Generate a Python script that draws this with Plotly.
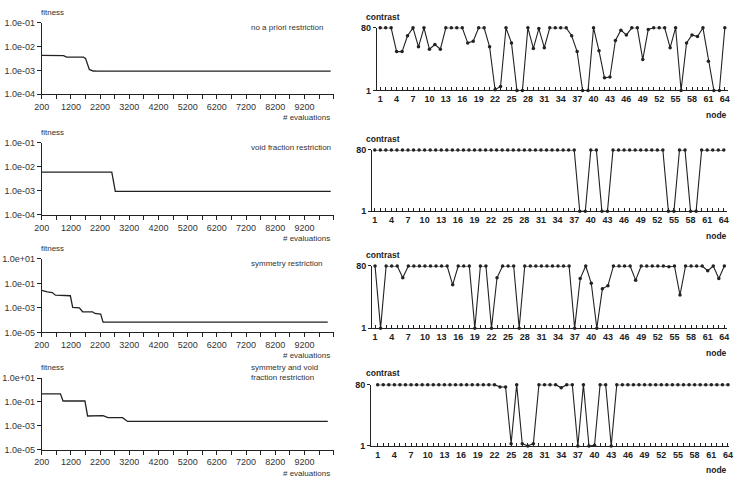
import plotly.graph_objects as go

W, H = 739, 482

# ---------------- data ----------------
evals_1 = [200, 950, 1050, 1630, 1700, 1760, 1830, 1960, 2100, 10100]
fitness_1 = [4.3e-3, 4.2e-3, 3.6e-3, 3.6e-3, 3.2e-3, 1.8e-3, 1.1e-3, 9.4e-4, 9.3e-4, 9.3e-4]

evals_2 = [200, 2600, 2720, 10100]
fitness_2 = [6.0e-3, 6.0e-3, 9.5e-4, 9.5e-4]

evals_3 = [200, 390, 560, 670, 1180, 1260, 1490, 1600, 1940, 2020, 2220, 2300, 10000]
fitness_3 = [0.0275, 0.020, 0.018, 0.011, 0.0098, 1.1e-3, 1.0e-3, 4.8e-4, 4.8e-4, 3.5e-4, 3.1e-4, 6.9e-5, 6.9e-5]

evals_4 = [200, 840, 930, 1680, 1770, 2300, 2470, 2970, 3140, 10000]
fitness_4 = [0.48, 0.48, 0.12, 0.12, 6.6e-3, 7.0e-3, 4.8e-3, 4.8e-3, 2.3e-3, 2.3e-3]

nodes = list(range(1, 65))
contrast_1 = [80, 80, 80, 50, 50, 70, 80, 56, 80, 53,
              59, 53, 80, 80, 80, 80, 61, 63, 80, 80,
              56, 2, 6, 80, 61, 1, 1, 80, 54, 79,
              55, 80, 80, 80, 80, 70, 50, 1, 1, 80,
              51, 17, 18, 64, 77, 71, 80, 80, 40, 78,
              80, 80, 80, 55, 80, 1, 61, 71, 69, 80,
              38, 1, 1, 80]
contrast_2 = [80] * 37 + [1, 1, 80, 80, 1, 1] + [80] * 10 + [1, 1, 80, 80, 1, 1] + [80] * 5
contrast_3 = [80, 1, 80, 80, 80, 65, 80, 80, 80, 80,
              80, 80, 80, 80, 56, 80, 80, 80, 1, 80,
              80, 1, 65, 80, 80, 80, 1, 80, 80, 80,
              80, 80, 80, 80, 80, 80, 1, 64, 80, 58,
              1, 51, 55, 80, 80, 80, 80, 62, 80, 80,
              80, 80, 80, 79, 80, 43, 80, 80, 80, 80,
              74, 80, 64, 80]
contrast_4 = [80] * 22 + [77, 77, 4, 80, 4, 1, 4, 80, 80, 80, 80, 76, 80, 80,
                          1, 80, 1, 2, 80, 80, 1] + [80] * 21

titles = ["no a priori restriction", "void fraction restriction",
          "symmetry restriction", "symmetry and void<br>fraction restriction"]

x_ticks_left = list(range(200, 10201, 500))
x_ticklabels_left = [str(v) if (v - 200) % 1000 == 0 and v <= 9200 else "" for v in x_ticks_left]
node_ticklabels = [str(n) if (n - 1) % 3 == 0 else "" for n in nodes]

left_series = [(evals_1, fitness_1), (evals_2, fitness_2), (evals_3, fitness_3), (evals_4, fitness_4)]
right_series = [contrast_1, contrast_2, contrast_3, contrast_4]

# ---------------- layout geometry (pixels) ----------------
left_y_px = [(18.3, 91), (140.7, 214.3), (259.3, 334.3), (381, 454)]
left_x_px = (34.3, 331)
right_y_px = [(23.3, 87.3), (148, 210.7), (266.5, 330), (387.7, 450.3)]
right_x_px = [(375, 732), (370, 731), (370, 731), (369, 733)]
right_x_rng = [(0.4, 64.6), (0.5, 64.6), (0.45, 64.5), (-0.2, 64.2)]

left_yticks = [
    ([1e-4, 1e-3, 1e-2, 1e-1], ["1.0e-04", "1.0e-03", "1.0e-02", "1.0e-01"], [-4, -1]),
    ([1e-4, 1e-3, 1e-2, 1e-1], ["1.0e-04", "1.0e-03", "1.0e-02", "1.0e-01"], [-4, -1]),
    ([1e-5, 1e-3, 1e-1, 1e1], ["1.0e-05", "1.0e-03", "1.0e-01", "1.0e+01"], [-5, 1]),
    ([1e-5, 1e-3, 1e-1, 1e1], ["1.0e-05", "1.0e-03", "1.0e-01", "1.0e+01"], [-5, 1]),
]

def fx(px):
    return px / W

def fy(px):
    return 1 - px / H

fig = go.Figure()
layout = dict(width=W, height=H, margin=dict(l=0, r=0, t=0, b=0),
              paper_bgcolor="white", plot_bgcolor="white", showlegend=False)
annotations = []
FONT = "Liberation Sans, Arial, sans-serif"
LC = "#222222"

for i in range(4):
    # left panel
    ax = 2 * i + 1
    xa = "x" if ax == 1 else f"x{ax}"
    ya = "y" if ax == 1 else f"y{ax}"
    ex, fv = left_series[i]
    fig.add_trace(go.Scatter(x=ex, y=fv, mode="lines", xaxis=xa, yaxis=ya,
                             line=dict(color=LC, width=1.3)))
    top, bot = left_y_px[i]
    layout["xaxis" if ax == 1 else f"xaxis{ax}"] = dict(
        domain=[fx(left_x_px[0]), fx(left_x_px[1])], range=[200, 10200],
        anchor=ya, showline=True, linecolor=LC, linewidth=1, showgrid=False, zeroline=False,
        tickmode="array", tickvals=x_ticks_left, ticktext=x_ticklabels_left,
        ticks="outside", ticklen=4, tickcolor=LC,
        tickfont=dict(family=FONT, size=9, color="#333"))
    tv, tt, rng = left_yticks[i]
    layout["yaxis" if ax == 1 else f"yaxis{ax}"] = dict(
        domain=[fy(bot), fy(top)], type="log", range=rng, anchor=xa,
        showline=True, linecolor=LC, linewidth=1, showgrid=False, zeroline=False,
        tickmode="array", tickvals=tv, ticktext=tt, ticks="outside", ticklen=4, tickcolor=LC,
        tickfont=dict(family=FONT, size=9, color="#333"))
    annotations.append(dict(text="fitness", x=fx(32), y=fy(top - 11), xref="paper", yref="paper",
                            xanchor="left", yanchor="middle", showarrow=False,
                            font=dict(family=FONT, size=8, color="#333")))
    annotations.append(dict(text="# evaluations", x=fx(329), y=fy(bot + 24), xref="paper", yref="paper",
                            xanchor="right", yanchor="middle", showarrow=False,
                            font=dict(family=FONT, size=8, color="#333")))
    annotations.append(dict(text=titles[i], x=fx(245), y=fy(top + 5 if i != 3 else top - 5.7),
                            xref="paper", yref="paper", xanchor="left", yanchor="middle",
                            align="left", showarrow=False,
                            font=dict(family=FONT, size=8, color="#333")))

    # right panel
    ax = 2 * i + 2
    xa = f"x{ax}"
    ya = f"y{ax}"
    fig.add_trace(go.Scatter(x=nodes, y=right_series[i], mode="lines+markers", xaxis=xa, yaxis=ya,
                             line=dict(color=LC, width=1.1), cliponaxis=False,
                             marker=dict(color=LC, size=3.5)))
    top, bot = right_y_px[i]
    layout[f"xaxis{ax}"] = dict(
        domain=[fx(right_x_px[i][0]), fx(right_x_px[i][1])], range=list(right_x_rng[i]),
        anchor=ya, showline=True, linecolor=LC, linewidth=1, showgrid=False, zeroline=False,
        tickmode="array", tickvals=nodes, ticktext=node_ticklabels,
        ticks="inside", ticklen=3, tickcolor=LC,
        tickfont=dict(family=FONT, size=9, color="#222", weight="bold"))
    layout[f"yaxis{ax}"] = dict(
        domain=[fy(bot), fy(top)], range=[1, 80], anchor=xa,
        showline=True, linecolor=LC, linewidth=1, showgrid=False, zeroline=False,
        tickmode="array", tickvals=[1, 80], ticktext=["1", "80"], ticks="outside", ticklen=3,
        tickcolor=LC, tickfont=dict(family=FONT, size=9, color="#222", weight="bold"))
    annotations.append(dict(text="<b>contrast</b>", x=fx(361.5), y=fy(top - 11.5), xref="paper", yref="paper",
                            xanchor="left", yanchor="middle", showarrow=False,
                            font=dict(family=FONT, size=8.5, color="#222")))
    annotations.append(dict(text="<b>node</b>", x=fx(733), y=fy(bot + 25), xref="paper", yref="paper",
                            xanchor="right", yanchor="middle", showarrow=False,
                            font=dict(family=FONT, size=8.5, color="#222")))

layout["annotations"] = annotations
fig.update_layout(**layout)
fig.write_html("out.html")
